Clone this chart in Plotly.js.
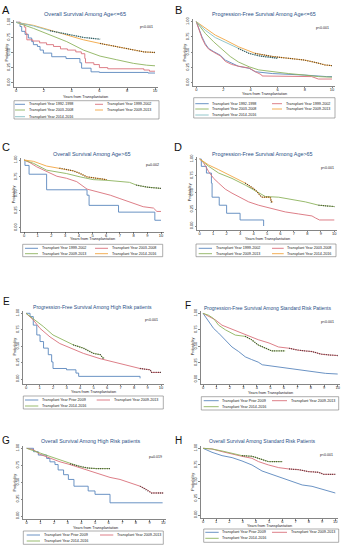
<!DOCTYPE html>
<html><head><meta charset="utf-8">
<script src="https://cdn.plot.ly/plotly-3.0.1.min.js"></script>
<style>html,body{margin:0;padding:0;background:#fff}#chart{width:343px;height:550px}</style>
</head><body><div id="chart"></div>
<script>
// ---------- DATA (years from transplantation, survival probability) ----------
// A: Overall Survival Among Age<=65
const A_9298_t = [0,0.29,0.41,0.65,0.89,1.13,1.25,1.54,1.73,1.97,2.57,3.6,4.6,4.72,5.4,6.0,9.5,10];
const A_9298_s = [1,0.93,0.85,0.80,0.74,0.68,0.63,0.60,0.54,0.49,0.43,0.40,0.33,0.24,0.18,0.17,0.16,0.16];
const A_9902_t = [0,0.3,0.6,0.7,0.78,1.2,1.7,2.2,2.7,3.2,3.7,4.3,4.7,4.95,5.0,5.6,6.0,6.6,9.2,9.6,10];
const A_9902_s = [1,0.97,0.92,0.82,0.71,0.69,0.66,0.63,0.60,0.56,0.54,0.51,0.48,0.40,0.33,0.30,0.25,0.23,0.21,0.19,0.19];
const A_0308_t = [0,1.25,2.45,3.65,4.85,6.05,7.25,8.45,9.4,10];
const A_0308_s = [1,0.90,0.79,0.68,0.54,0.44,0.38,0.32,0.29,0.28];
const A_0913_t = [0,1.25,2.45,3.65,4.85,6.05,7.25,8.45,9.2,10];
const A_0913_s = [1,0.95,0.87,0.79,0.71,0.65,0.60,0.55,0.51,0.50];
const A_1416_t = [0,1.25,2.45,3.65,4.85,6.05];
const A_1416_s = [1,0.94,0.86,0.80,0.75,0.72];
// B: Progression-Free Survival Among Age<=65
const B_9298_t = [0,0.17,0.42,0.66,0.91,1.28,1.77,2.14,2.6,3.1,3.9,4.35,5.6,6.8,8.0,9.6,10];
const B_9298_s = [1,0.89,0.75,0.64,0.56,0.51,0.45,0.37,0.32,0.27,0.235,0.18,0.15,0.14,0.125,0.10,0.10];
const B_9902_t = [0,0.17,0.42,0.66,0.91,1.28,1.77,2.14,2.6,3.1,3.9,4.35,4.8,4.85,6.8,8.5,9.0,10];
const B_9902_s = [1,0.89,0.73,0.62,0.55,0.50,0.44,0.35,0.30,0.27,0.24,0.18,0.13,0.11,0.11,0.10,0.06,0.06];
const B_0308_t = [0,0.66,1.28,1.9,2.5,3.1,3.9,4.6,5.6,6.8,8.0,9.0,10];
const B_0308_s = [1,0.81,0.67,0.54,0.43,0.34,0.26,0.21,0.18,0.15,0.125,0.10,0.09];
const B_0913_t = [0,0.66,1.4,2.14,3.1,4.35,5.6,6.8,8.0,9.0,9.5,10];
const B_0913_s = [1,0.89,0.78,0.70,0.59,0.48,0.43,0.40,0.37,0.32,0.29,0.28];
const B_1416_t = [0,0.66,1.4,2.14,3.1,3.9,4.6,5.6,6.0];
const B_1416_s = [1,0.86,0.74,0.66,0.56,0.48,0.44,0.41,0.40];
// C: Overall Survival Among Age>65
const C_9902_t = [0,0.07,0.37,1.65,4.6,4.75,6.9,9.55,10];
const C_9902_s = [1,0.92,0.79,0.56,0.48,0.33,0.23,0.11,0.11];
const C_0308_t = [0,0.44,0.92,1.65,2.4,3.1,3.85,4.6,5.55,6.3,7.0,8.0,8.7,9.45,9.7,10];
const C_0308_s = [1,0.96,0.90,0.83,0.76,0.73,0.68,0.57,0.52,0.48,0.43,0.36,0.31,0.29,0.24,0.24];
const C_0913_t = [0,0.7,1.65,3.1,4.1,5.06,6.03,7.0,7.7,8.2,8.95,10];
const C_0913_s = [1,0.95,0.85,0.80,0.75,0.71,0.70,0.68,0.67,0.63,0.60,0.58];
const C_1416_t = [0,0.7,1.65,2.6,3.6,4.1,4.6,6.03];
const C_1416_s = [1,0.98,0.91,0.88,0.84,0.80,0.75,0.71];
// D: Progression-Free Survival Among Age>65
const D_9902_t = [0,0.12,0.5,0.87,0.92,1.45,2.0,3.0,4.75];
const D_9902_s = [1,0.89,0.79,0.64,0.43,0.31,0.19,0.09,0.0];
const D_0308_t = [0,0.3,0.67,1.04,1.41,1.9,2.4,2.9,3.64,4.38,5.37,6.36,7.35,8.34,8.6,8.9,10];
const D_0308_s = [1,0.94,0.81,0.71,0.64,0.55,0.49,0.44,0.36,0.31,0.26,0.21,0.18,0.15,0.12,0.09,0.09];
const D_0913_t = [0,0.67,1.41,2.4,3.39,4.13,4.88,5.87,6.86,7.85,8.84,9.83,10];
const D_0913_s = [1,0.89,0.79,0.71,0.61,0.53,0.44,0.43,0.40,0.36,0.31,0.29,0.29];
const D_1416_t = [0,0.67,1.41,2.4,3.39,4.13,4.6,5.25,5.32,5.45];
const D_1416_s = [1,0.91,0.84,0.74,0.64,0.54,0.43,0.43,0.36,0.36];
// E: Progression-Free Survival Among High Risk patients
const E_p09_t = [0,0.3,0.54,0.8,1.04,1.3,1.65,1.9,2.0,3.0,3.7,3.9,8.45];
const E_p09_s = [1,0.95,0.82,0.67,0.57,0.47,0.37,0.26,0.16,0.14,0.09,0.04,0.01];
const E_0913_t = [0,0.54,1.04,1.78,2.5,3.26,4.25,5.48,6.47,7.46,8.44,9.2,9.3,10];
const E_0913_s = [1,0.90,0.77,0.64,0.54,0.47,0.39,0.31,0.26,0.21,0.16,0.14,0.10,0.10];
const E_1416_t = [0,0.54,1.28,2.0,2.77,3.5,4.25,5.0,5.5,5.7,5.8];
const E_1416_s = [1,0.92,0.80,0.67,0.59,0.52,0.47,0.39,0.37,0.32,0.32];
// F: Progression-Free Survival Among Standard Risk Patients
const F_p09_t = [0,0.42,0.79,1.16,1.66,2.15,2.65,3.14,3.6,4.1,4.4,5.1,6.1,7.1,8.1,9.1,10];
const F_p09_s = [1,0.87,0.77,0.70,0.60,0.49,0.42,0.34,0.30,0.26,0.22,0.20,0.17,0.14,0.12,0.09,0.08];
const F_0913_t = [0,0.42,0.92,1.41,2.03,2.65,3.4,4.1,4.9,5.6,6.4,7.1,8.1,8.8,9.3,10];
const F_0913_s = [1,0.95,0.90,0.82,0.77,0.72,0.65,0.60,0.55,0.49,0.47,0.44,0.42,0.38,0.37,0.36];
const F_1416_t = [0,0.42,0.79,1.16,1.66,2.4,3.14,3.6,4.1,4.6,5.1,6.1];
const F_1416_s = [1,0.97,0.92,0.82,0.75,0.67,0.65,0.60,0.52,0.47,0.43,0.43];
// G: Overall Survival Among High Risk patients
const G_p09_t = [0,0.5,0.85,1.46,1.7,2.07,2.3,2.7,3.05,3.46,4.5,5.0,6.1,9.95];
const G_p09_s = [1,0.95,0.90,0.85,0.80,0.76,0.68,0.61,0.54,0.44,0.37,0.32,0.195,0.195];
const G_0913_t = [0,0.49,0.98,1.7,2.44,3.17,3.9,4.63,5.37,6.1,6.83,7.56,8.3,8.78,9.15,10];
const G_0913_s = [1,0.98,0.91,0.85,0.80,0.76,0.71,0.66,0.61,0.57,0.54,0.49,0.44,0.39,0.34,0.34];
const G_1416_t = [0,0.49,0.98,1.7,2.44,3.17,3.9,4.4,5.1,6.1];
const G_1416_s = [1,0.96,0.93,0.88,0.83,0.77,0.73,0.71,0.70,0.70];
// H: Overall Survival Among Standard Risk Patients
const H_p09_t = [0,0.68,1.44,2.2,2.95,3.7,4.46,5.2,5.97,6.73,7.5,8.24,9.0,9.5,10];
const H_p09_s = [1,0.94,0.89,0.86,0.81,0.75,0.66,0.61,0.55,0.51,0.45,0.43,0.39,0.36,0.33];
const H_0913_t = [0,0.68,1.44,2.2,2.95,3.7,4.2,4.96,5.72,6.5,7.2,8.0,8.74,9.12,10];
const H_0913_s = [1,0.99,0.95,0.91,0.88,0.85,0.80,0.75,0.71,0.69,0.68,0.65,0.64,0.61,0.61];
const H_1416_t = [0,0.68,1.44,2.2,2.95,3.7,4.2,4.96,6.0];
const H_1416_s = [1,0.99,0.96,0.93,0.89,0.88,0.85,0.80,0.80];

const yTickVals = [0,0.25,0.5,0.75,1];
const yTickText = ['0.00','0.25','0.50','0.75','1.00'];
const lab = {
  y9298:'Transplant Year 1992-1998', y9902:'Transplant Year 1999-2002', y0308:'Transplant Year 2003-2008',
  y0913:'Transplant Year 2009-2013', y1416:'Transplant Year 2014-2016', p09:'Transplant Year Prior 2009'
};

// ---------- STYLE ----------
const BLUE='#5a87bd', RED='#d9707a', GREEN='#8db35d', ORANGE='#f2a541', TEAL='#86bfc4';
const FONT='Liberation Sans, Arial, sans-serif';
const TITLE_C='#2a4f86';
const W=343, H=550;
const PX=x=>x/W, PY=y=>1-y/H;

const panels = [
 {L:'A', lp:[6,10], ls:11, title:'Overall Survival Among Age<=65', tp:[84.5,14], tf:5.6, p:'p<0.001', pp:[146,26.7],
  g:{xL:13.3,x0:16,x10:155,y1:22.3,y0:82.7,yB:87.3}, dtick:2, xt:97.5,
  leg:{box:[14,100.7,159,119], col:[[15,25,26.7],[95,103,105]], rows:[104.3,110,116.7]},
  cur:[[A_9298_t,A_9298_s,BLUE,'hv',null,lab.y9298],[A_9902_t,A_9902_s,RED,'hv',null,lab.y9902],
       [A_0308_t,A_0308_s,GREEN,'linear',null,lab.y0308],[A_0913_t,A_0913_s,ORANGE,'linear',6.0,lab.y0913],
       [A_1416_t,A_1416_s,TEAL,'linear',2.45,lab.y1416]]},
 {L:'B', lp:[178,10], ls:11, title:'Progression-Free Survival Among Age<=65', tp:[264,14], tf:5.4, p:'p<0.001', pp:[322,28.3],
  g:{xL:192.7,x0:196.3,x10:332,y1:21.7,y0:82.7,yB:86}, dtick:2, xt:93.6,
  leg:{box:[193.7,97.7,335,118], col:[[195.3,208.7,210.5],[272,282,284]], rows:[103.7,109,115]},
  cur:[[B_9298_t,B_9298_s,BLUE,'linear',null,lab.y9298],[B_9902_t,B_9902_s,RED,'linear',null,lab.y9902],
       [B_0308_t,B_0308_s,GREEN,'linear',null,lab.y0308],[B_0913_t,B_0913_s,ORANGE,'linear',4.35,lab.y0913],
       [B_1416_t,B_1416_s,TEAL,'linear',3.1,lab.y1416]]},
 {L:'C', lp:[6,147], ls:11, title:'Overall Survival Among Age>65', tp:[91.5,154], tf:5.5, p:'p=0.002', pp:[152.7,165],
  g:{xL:20.7,x0:24,x10:161,y1:160,y0:227.7,yB:231.7}, dtick:1, xt:239.5,
  leg:{box:[22.7,244.3,162.7,256.7], col:[[25,38,40],[95,108,110]], rows:[248.3,253.7]},
  cur:[[C_9902_t,C_9902_s,BLUE,'hv',null,lab.y9902],[C_0308_t,C_0308_s,RED,'linear',null,lab.y0308],
       [C_0913_t,C_0913_s,GREEN,'linear',8.2,lab.y0913],[C_1416_t,C_1416_s,ORANGE,'linear',2.6,lab.y1416]]},
 {L:'D', lp:[178,147], ls:11, title:'Progression-Free Survival Among Age>65', tp:[262,154], tf:5.4, p:'p<0.001', pp:[327,168.3],
  g:{xL:197,x0:199.7,x10:334.3,y1:159,y0:226,yB:230}, dtick:1, xt:239.5,
  leg:{box:[196,244,336,256.7], col:[[198.7,212,213.7],[272,283.7,285.3]], rows:[248.3,253.7]},
  cur:[[D_9902_t,D_9902_s,BLUE,'hv',null,lab.y9902],[D_0308_t,D_0308_s,RED,'linear',null,lab.y0308],
       [D_0913_t,D_0913_s,GREEN,'linear',8.84,lab.y0913],[D_1416_t,D_1416_s,ORANGE,'linear',3.39,lab.y1416]]},
 {L:'E', lp:[7,301.7], ls:10, title:'Progression-Free Survival Among High Risk patients', tp:[92.5,307], tf:5.1, p:'p<0.001', pp:[151.7,320],
  g:{xL:22.7,x0:26,x10:161,y1:313.3,y0:379,yB:384}, dtick:1, xt:392,
  leg:{box:[23.3,396,163.3,409], col:[[25,38.3,40],[96.7,110,111.7]], rows:[400,406]},
  cur:[[E_p09_t,E_p09_s,BLUE,'hv',null,lab.p09],[E_0913_t,E_0913_s,RED,'linear',8.44,lab.y0913],
       [E_1416_t,E_1416_s,GREEN,'linear',3.5,lab.y1416]]},
 {L:'F', lp:[188,305], ls:10, title:'Progression-Free Survival Among Standard Risk Patients', tp:[268,308.3], tf:5.0, p:'p<0.001', pp:[327,321.7],
  g:{xL:200.3,x0:203,x10:337.7,y1:313.3,y0:379.3,yB:384.3}, dtick:1, xt:392.5,
  leg:{box:[201.3,396.7,338.7,410], col:[[203.7,218.7,220.3],[272,287,288.7]], rows:[400.7,406.7]},
  cur:[[F_p09_t,F_p09_s,BLUE,'linear',null,lab.p09],[F_0913_t,F_0913_s,RED,'linear',6.4,lab.y0913],
       [F_1416_t,F_1416_s,GREEN,'linear',3.14,lab.y1416]]},
 {L:'G', lp:[6,440], ls:10, title:'Overall Survival Among High Risk patients', tp:[91,440.7], tf:5.3, p:'p=0.019', pp:[155.8,456.7],
  g:{xL:22.7,x0:26.7,x10:163.3,y1:448.3,y0:516,yB:519.3}, dtick:1, xt:527.8,
  leg:{box:[23.3,531,163.3,544.3], col:[[26.7,40,41.7],[100,113.3,115]], rows:[535,541]},
  cur:[[G_p09_t,G_p09_s,BLUE,'hv',null,lab.p09],[G_0913_t,G_0913_s,RED,'linear',8.3,lab.y0913],
       [G_1416_t,G_1416_s,GREEN,'linear',3.17,lab.y1416]]},
 {L:'H', lp:[178,440], ls:10, title:'Overall Survival Among Standard Risk Patients', tp:[262,440.7], tf:5.1, p:'p<0.001', pp:[326,455],
  g:{xL:200.3,x0:203,x10:335.3,y1:448.3,y0:515,yB:518.3}, dtick:1, xt:526,
  leg:{box:[203.7,529,338.7,542.3], col:[[205.3,218.7,220.3],[272,287,288.7]], rows:[532.3,538.3]},
  cur:[[H_p09_t,H_p09_s,BLUE,'linear',null,lab.p09],[H_0913_t,H_0913_s,RED,'linear',6.5,lab.y0913],
       [H_1416_t,H_1416_s,GREEN,'linear',2.95,lab.y1416]]}
];

const traces=[], shapes=[], annotations=[];
const layout = {width:W, height:H, margin:{l:0,r:0,t:0,b:0}, paper_bgcolor:'#fff', plot_bgcolor:'#fff',
  showlegend:false, font:{family:FONT, color:'#222'}};

panels.forEach((P,i)=>{
  const n = i===0 ? '' : String(i+1);
  const g = P.g;
  const xs=(g.x10-g.x0)/10, xR=g.x10+2.5;
  const ys=(g.y0-g.y1), yT=g.y1-2.5;
  layout['xaxis'+n] = {domain:[PX(g.xL),PX(xR)], range:[-(g.x0-g.xL)/xs, 10+2.5/xs], anchor:'y'+n,
    showline:true, linecolor:'#333', linewidth:0.6, ticks:'outside', ticklen:1.6, tickwidth:0.6, tickcolor:'#333',
    ticklabelstandoff:-2,
    tick0:0, dtick:P.dtick, showgrid:false, zeroline:false, tickfont:{size:4.0, family:FONT, color:'#222'}, fixedrange:true};
  layout['yaxis'+n] = {domain:[PY(g.yB),PY(yT)], range:[-(g.yB-g.y0)/ys, 1+2.5/ys], anchor:'x'+n,
    showline:true, linecolor:'#333', linewidth:0.6, ticks:'outside', ticklen:1.6, tickwidth:0.6, tickcolor:'#333',
    tickvals:yTickVals, ticktext:yTickText, tickangle:-90, showgrid:false, zeroline:false,
    tickfont:{size:4.0, family:FONT, color:'#222'}, fixedrange:true};
  P.cur.forEach(c=>{
    traces.push({type:'scatter', mode:'lines', x:c[0], y:c[1], xaxis:'x'+n, yaxis:'y'+n,
      line:{color:c[2], width:0.9, shape:c[3]}, hoverinfo:'skip'});
  });
  // censoring ticks drawn as dark dashes over the censored stretch of the same curve
  P.cur.forEach(c=>{
    if(c[4]===null) return;
    const k = c[0].findIndex(v=>v>=c[4]);
    traces.push({type:'scatter', mode:'lines', x:c[0].slice(k), y:c[1].slice(k), xaxis:'x'+n, yaxis:'y'+n,
      line:{color:'#111', width:1.3, shape:c[3], dash:'0.6px,1.6px'}, hoverinfo:'skip'});
  });
  // texts
  annotations.push({text:P.L, x:PX(P.lp[0]), y:PY(P.lp[1]), xref:'paper', yref:'paper', showarrow:false,
    xanchor:'center', yanchor:'middle', font:{size:P.ls, family:FONT, color:'#111'}});
  annotations.push({text:P.title, x:PX(P.tp[0]), y:PY(P.tp[1]), xref:'paper', yref:'paper', showarrow:false,
    xanchor:'center', yanchor:'middle', font:{size:P.tf, family:FONT, color:TITLE_C}});
  annotations.push({text:P.p, x:PX(P.pp[0]), y:PY(P.pp[1]), xref:'paper', yref:'paper', showarrow:false,
    xanchor:'center', yanchor:'middle', font:{size:3.6, family:FONT, color:'#222'}});
  annotations.push({text:'Years from Transplantation', x:PX((g.x0+g.x10)/2), y:PY(P.xt), xref:'paper', yref:'paper', showarrow:false,
    xanchor:'center', yanchor:'middle', font:{size:3.8, family:FONT, color:'#222'}});
  annotations.push({text:'Probability', x:PX(g.xL-7.3), y:PY((g.y1+g.y0)/2), xref:'paper', yref:'paper', showarrow:false,
    xanchor:'center', yanchor:'middle', textangle:-90, font:{size:3.8, family:FONT, color:'#222'}});
  // legend box
  const b=P.leg.box;
  shapes.push({type:'rect', xref:'paper', yref:'paper', x0:PX(b[0]), x1:PX(b[2]), y0:PY(b[3]), y1:PY(b[1]),
    line:{color:'#777', width:0.6}, fillcolor:'rgba(0,0,0,0)'});
  P.cur.forEach((c,j)=>{
    const r=P.leg.rows[Math.floor(j/2)], col=P.leg.col[j%2];
    shapes.push({type:'line', xref:'paper', yref:'paper', x0:PX(col[0]), x1:PX(col[1]), y0:PY(r), y1:PY(r),
      line:{color:c[2], width:0.9}});
    annotations.push({text:c[5], x:PX(col[2]), y:PY(r), xref:'paper', yref:'paper', showarrow:false,
      xanchor:'left', yanchor:'middle', font:{size:3.7, family:FONT, color:'#222'}});
  });
});
layout.shapes=shapes; layout.annotations=annotations;
Plotly.newPlot('chart', traces, layout, {staticPlot:true, displayModeBar:false});
</script></body></html>
